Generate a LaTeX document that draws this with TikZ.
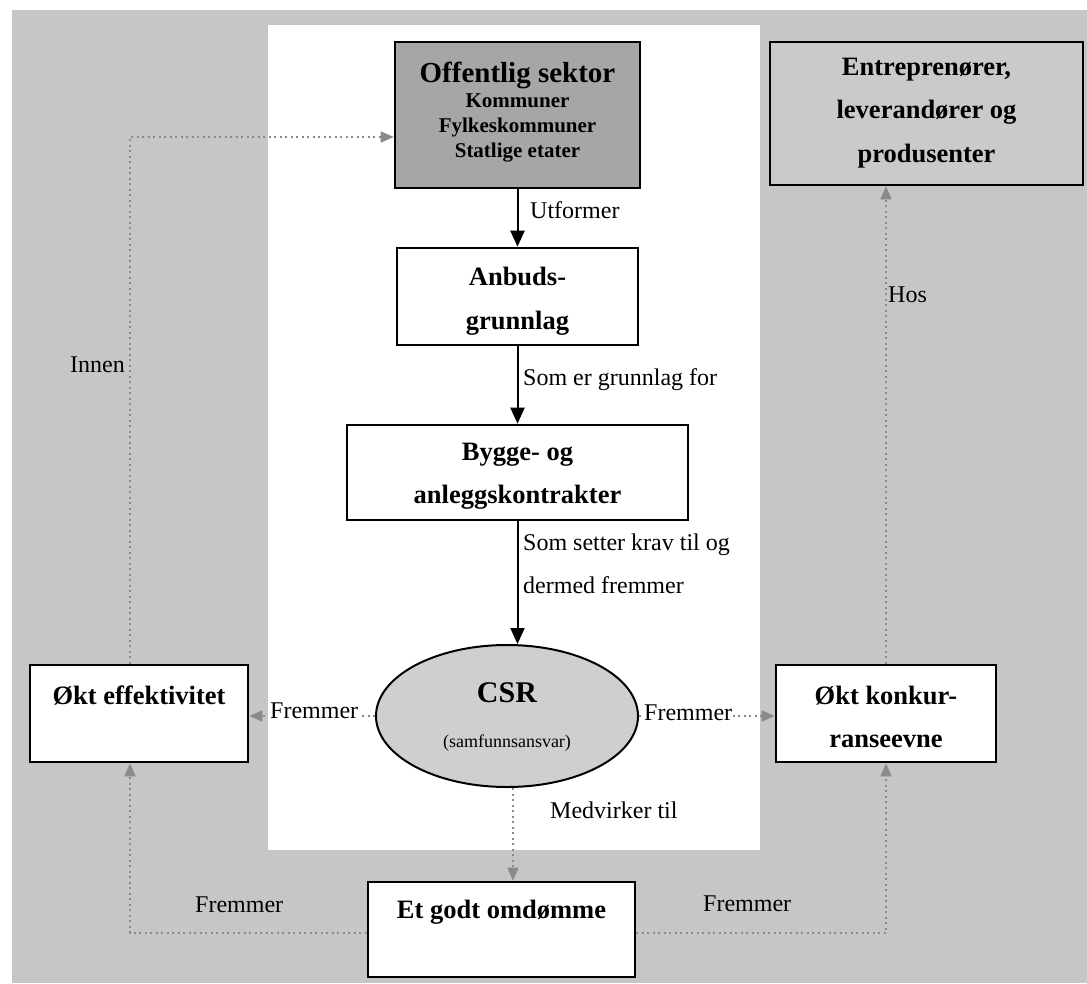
\documentclass[tikz,border=0pt]{standalone}
\usepackage{fontspec}
\setmainfont{Liberation Serif}
\usetikzlibrary{arrows.meta,shapes.geometric}
\definecolor{bggray}{HTML}{C6C6C6}
\definecolor{darkfill}{HTML}{A6A6A6}
\definecolor{ellfill}{HTML}{CFCFCF}
\definecolor{entfill}{HTML}{CACACA}
\definecolor{dotgray}{HTML}{8A8A8A}
\begin{document}
\begin{tikzpicture}[x=1pt,y=-1pt,
 box/.style={draw=black,line width=2.6pt,rectangle,inner sep=0pt,fill=white},
 btxt/.style={anchor=base,inner sep=0pt,font=\fontsize{26.5}{30}\selectfont\bfseries},
 stxt/.style={anchor=base,inner sep=0pt,font=\fontsize{21}{24}\selectfont\bfseries},
 ltxt/.style={anchor=base west,inner sep=0pt,font=\fontsize{24}{28}\selectfont},
 solidarrow/.style={draw=black,line width=2pt,-{Triangle[length=16pt,width=14pt]}},
 dotarrow/.style={draw=dotgray,line width=1.3pt,dash pattern=on 2pt off 3.5pt,-{Triangle[length=13pt,width=11pt,fill=dotgray]}}
]
\useasboundingbox (0,0) rectangle (1087,983);
\fill[bggray] (12,10) rectangle (1087,983);
\fill[white] (268,25) rectangle (760,850);

% boxes
\node[box,fill=darkfill,minimum width=245pt,minimum height=146pt] (off) at (517.5,115) {};
\node[box,minimum width=241pt,minimum height=97pt] (anb) at (517.5,296.5) {};
\node[box,minimum width=341pt,minimum height=95pt] (byg) at (517.5,472.5) {};
\node[ellipse,draw=black,line width=2pt,fill=ellfill,minimum width=262pt,minimum height=142pt,inner sep=0pt] (csr) at (507,716) {};
\node[box,minimum width=218pt,minimum height=97pt] (eff) at (139,713.5) {};
\node[box,minimum width=220pt,minimum height=97pt] (kon) at (886,713.5) {};
\node[box,minimum width=267pt,minimum height=95pt] (omd) at (501.5,929.5) {};
\node[box,fill=entfill,minimum width=313pt,minimum height=143pt] (ent) at (926.5,113.5) {};

% box texts
\node[anchor=base,inner sep=0pt,font=\fontsize{29}{32}\selectfont\bfseries] (offt) at (517.5,82) {Offentlig sektor};
\node[stxt] (offa) at (517.5,107) {Kommuner};
\node[stxt] (offb) at (517.5,132) {Fylkeskommuner};
\node[stxt] (offc) at (517.5,157) {Statlige etater};
\node[btxt] (anbt1) at (517.5,285) {Anbuds-};
\node[btxt] (anbt2) at (517.5,329) {grunnlag};
\node[btxt] (bygt1) at (517.5,460) {Bygge- og};
\node[btxt] (bygt2) at (517.5,503) {anleggskontrakter};
\node[btxt] (entt1) at (926.5,75) {Entreprenører,};
\node[btxt] (entt2) at (926.5,118) {leverandører og};
\node[btxt] (entt3) at (926.5,162) {produsenter};
\node[btxt] (efft) at (139,704) {Økt effektivitet};
\node[btxt] (kont1) at (886,704) {Økt konkur-};
\node[btxt] (kont2) at (886,747) {ranseevne};
\node[anchor=base,inner sep=0pt,font=\fontsize{30}{34}\selectfont\bfseries] (csrt1) at (507,702) {CSR};
\node[anchor=base,inner sep=0pt,font=\fontsize{18}{20}\selectfont] (csrt2) at (507,747) {(samfunnsansvar)};
\node[btxt] (omdt) at (501.5,918) {Et godt omdømme};

% solid connectors
\draw[solidarrow] (off.south) -- (anb.north);
\draw[solidarrow] (anb.south) -- (byg.north);
\draw[solidarrow] (byg.south) -- (byg.south |- csr.north);

% dotted connectors
\draw[dotarrow] ([xshift=-9pt]eff.north) |- ([yshift=-22pt]off.west);
\draw[dotarrow] (csr.west) -- (csr.west -| eff.east);
\draw[dotarrow] (csr.east) -- (csr.east -| kon.west);
\draw[dotarrow] ([xshift=6pt]csr.south) -- ([xshift=6pt]csr.south |- omd.north);
\draw[dotarrow] ([yshift=-3.5pt]omd.west) -| ([xshift=-9pt]eff.south);
\draw[dotarrow] ([yshift=-3.5pt]omd.east) -| (kon.south);
\draw[dotarrow] (kon.north) -- (kon.north |- ent.south);

% connector labels
\node[ltxt] (lutf) at (530,218) {Utformer};
\node[ltxt] (lsom) at (523,385) {Som er grunnlag for};
\node[ltxt] (lkrav1) at (523,550) {Som setter krav til og};
\node[ltxt] (lkrav2) at (523,593) {dermed fremmer};
\node[ltxt,fill=white,inner sep=1pt] (lfl) at (269,718) {Fremmer};
\node[ltxt,fill=white,inner sep=1pt] (lfr) at (643,720) {Fremmer};
\node[ltxt] (lmed) at (550,818) {Medvirker til};
\node[ltxt] (lfbl) at (195,912) {Fremmer};
\node[ltxt] (lfbr) at (703,911) {Fremmer};
\node[ltxt] (linn) at (70,372) {Innen};
\node[ltxt] (lhos) at (888,302) {Hos};
\end{tikzpicture}
\end{document}
